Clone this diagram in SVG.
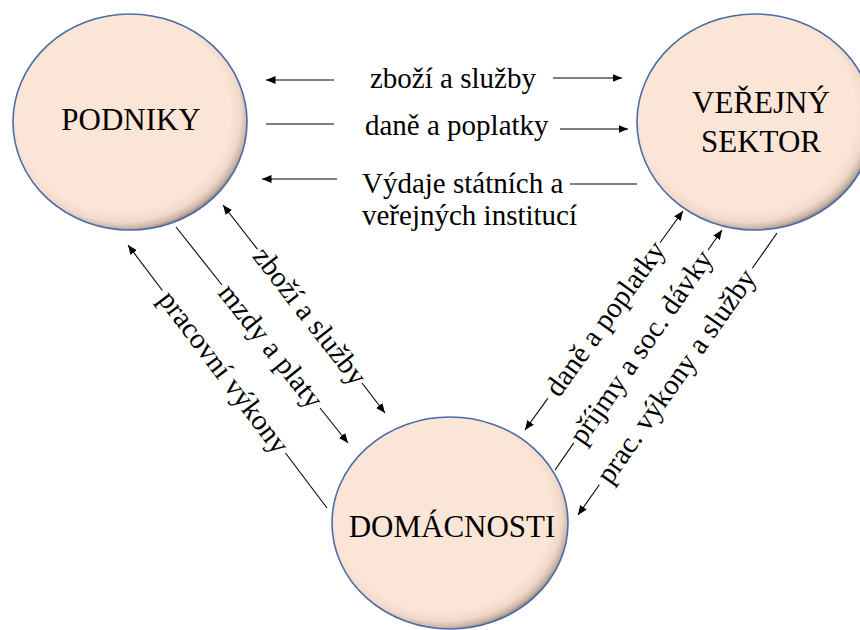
<svg xmlns="http://www.w3.org/2000/svg" width="860" height="630" viewBox="0 0 860 630">
<defs>
<radialGradient id="fillG" cx="0.47" cy="0.46" r="0.55" fx="0.45" fy="0.43">
<stop offset="0" stop-color="#FBE5D6"/>
<stop offset="0.84" stop-color="#FBE5D6"/>
<stop offset="0.92" stop-color="#F0D9CA"/>
<stop offset="0.97" stop-color="#C9B3A6"/>
<stop offset="1" stop-color="#8A7A70"/>
</radialGradient>
<marker id="ah" markerUnits="userSpaceOnUse" markerWidth="11" markerHeight="9" refX="9.5" refY="4" orient="auto">
<path d="M0,0 L9.5,4 L0,8 z" fill="#000"/>
</marker>
<style>
text{font-family:"Liberation Serif","Times New Roman",serif;fill:#000}
.node{fill:url(#fillG);stroke:#4A6CA8;stroke-width:1.6}
.nt{font-size:31px;text-anchor:middle}
.lb{font-size:29px}
.rl{text-anchor:middle}
.ln{stroke:#000;stroke-width:1.1;fill:none}
.ar{marker-end:url(#ah)}
</style>
</defs>
<rect width="860" height="630" fill="#fff"/>
<g id="podniky">
<ellipse class="node" cx="130" cy="122" rx="117" ry="108"/>
<text class="nt" x="131" y="130">PODNIKY</text>
</g>
<g id="verejny-sektor">
<ellipse class="node" cx="755" cy="122" rx="118" ry="108"/>
<text class="nt" x="761" y="113">VEŘEJNÝ</text>
<text class="nt" x="761" y="152">SEKTOR</text>
</g>
<g id="domacnosti">
<ellipse class="node" cx="450" cy="523" rx="118" ry="106"/>
<text class="nt" x="452" y="537">DOMÁCNOSTI</text>
</g>
<g id="connectors">
<line class="ln ar" x1="334" y1="80" x2="266" y2="80"/>
<line class="ln ar" x1="553" y1="78" x2="622" y2="78"/>
<text class="lb" x="370" y="88">zboží a služby</text>
<line class="ln" x1="266" y1="124" x2="334" y2="124"/>
<line class="ln ar" x1="560" y1="129" x2="628" y2="129"/>
<text class="lb" x="365" y="135">daně a poplatky</text>
<line class="ln ar" x1="337" y1="179" x2="262" y2="179"/>
<line class="ln" x1="570" y1="184" x2="637" y2="184"/>
<text class="lb" x="362" y="193">Výdaje státních a</text>
<text class="lb" x="362" y="225">veřejných institucí</text>
<line class="ln ar" x1="257.4" y1="249.2" x2="223" y2="205"/>
<line class="ln ar" x1="362" y1="383" x2="385" y2="413"/>
<text class="lb rl" transform="translate(310,316) rotate(52.1)" dy="0.33em">zboží a služby</text>
<line class="ln" x1="176" y1="227" x2="222" y2="285"/>
<line class="ln ar" x1="320" y1="408" x2="348" y2="443"/>
<text class="lb rl" transform="translate(271,346) rotate(51.5)" dy="0.33em">mzdy a platy</text>
<line class="ln ar" x1="162.4" y1="290.5" x2="128" y2="245"/>
<line class="ln" x1="285.5" y1="453" x2="327" y2="508"/>
<text class="lb rl" transform="translate(224,372) rotate(52.9)" dy="0.33em">pracovní výkony</text>
<line class="ln ar" x1="547.8" y1="398.4" x2="525" y2="430"/>
<line class="ln ar" x1="660" y1="242.7" x2="683" y2="211"/>
<text class="lb rl" transform="translate(605,318.5) rotate(-54.2)" dy="0.33em">daně a poplatky</text>
<line class="ln" x1="555" y1="470" x2="573.8" y2="442.9"/>
<line class="ln ar" x1="708" y1="250" x2="722" y2="230"/>
<text class="lb rl" transform="translate(641,347) rotate(-55.2)" dy="0.33em">příjmy a soc. dávky</text>
<line class="ln ar" x1="599.3" y1="484.8" x2="578" y2="515"/>
<line class="ln" x1="752.3" y1="268.3" x2="777" y2="233"/>
<text class="lb rl" transform="translate(676,376) rotate(-54.8)" dy="0.33em">prac. výkony a služby</text>
</g>
</svg>
